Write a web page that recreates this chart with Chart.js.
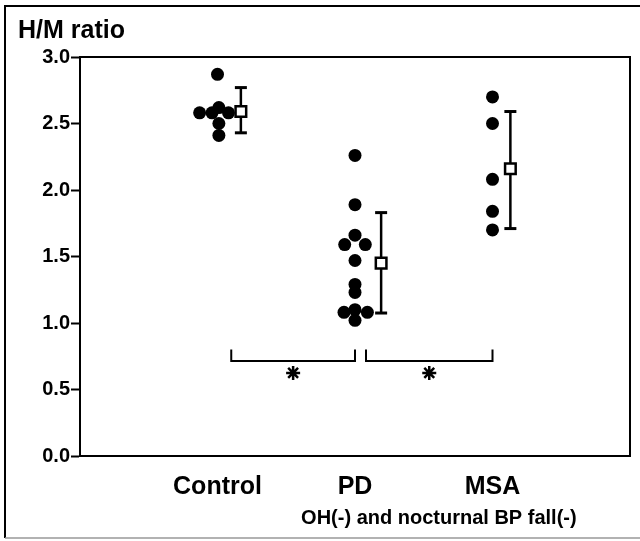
<!doctype html>
<html>
<head>
<meta charset="utf-8">
<title>H/M ratio</title>
<script src="https://cdn.jsdelivr.net/npm/chart.js@4.4.1/dist/chart.umd.min.js"></script>
<style>
  body { margin: 0; background: #fff; }
  #holder { width: 640px; height: 541px; position: relative; }
</style>
</head>
<body>
<div id="holder"><canvas id="chart"></canvas></div>
<script>
// groups along the x axis (positions 1, 2, 3)
var groups = ['Control', 'PD', 'MSA'];

// individual H/M ratios, with the small sideways spread used in the figure
var controlValues = [2.87, 2.58, 2.58, 2.62, 2.58, 2.50, 2.41];
var controlSpread = [0, -0.13, -0.04, 0.01, 0.08, 0.01, 0.01];
var pdValues = [2.26, 1.89, 1.66, 1.59, 1.59, 1.47, 1.29, 1.23, 1.08, 1.10, 1.08, 1.02];
var pdSpread = [0, 0, 0, -0.075, 0.075, 0, 0, 0, -0.08, 0, 0.09, 0];
var msaValues = [2.70, 2.50, 2.08, 1.84, 1.70];
var msaSpread = [0, 0, 0, 0, 0];

// mean +/- SD for each group, drawn just right of the dots
var meanX = [1.17, 2.19, 3.13];
var means = [2.59, 1.45, 2.16];
var sdLow = [2.43, 1.075, 1.71];
var sdHigh = [2.77, 1.83, 2.59];

// significance brackets (Control vs PD, PD vs MSA)
var bracketFrom = [1.1, 2.08];
var bracketTo = [2.0, 3.0];
var bracketTop = 0.80;
var bracketBottom = 0.715;
var starX = [1.55, 2.54];
var starY = 0.625;

var yTicks = [0, 0.5, 1.0, 1.5, 2.0, 2.5, 3.0];
var subtitle = 'OH(-) and nocturnal BP fall(-)';

Chart.defaults.font.family = '"Liberation Sans", Arial, sans-serif';
Chart.defaults.color = '#000';

function dots(values, spread, group) {
  return values.map(function (v, i) { return { x: group + spread[i], y: v }; });
}

var dotData = []
  .concat(dots(controlValues, controlSpread, 1))
  .concat(dots(pdValues, pdSpread, 2))
  .concat(dots(msaValues, msaSpread, 3));

var datasets = [];

// mean squares on top
datasets.push({
  type: 'scatter',
  data: means.map(function (m, i) { return { x: meanX[i], y: m }; }),
  pointStyle: 'rect',
  pointRadius: 7.5,
  backgroundColor: '#fff',
  borderColor: '#000',
  borderWidth: 2.5,
  order: 0
});

// SD bars with caps
means.forEach(function (m, i) {
  datasets.push({
    type: 'line',
    data: [{ x: meanX[i], y: sdLow[i] }, { x: meanX[i], y: sdHigh[i] }],
    borderColor: '#000',
    borderWidth: 2.5,
    pointStyle: 'line',
    pointRadius: 6,
    pointBorderWidth: 3,
    pointBorderColor: '#000',
    fill: false,
    order: 1
  });
});

// filled dots
datasets.push({
  type: 'scatter',
  data: dotData,
  pointStyle: 'circle',
  pointRadius: 6.5,
  backgroundColor: '#000',
  borderColor: '#000',
  borderWidth: 0,
  order: 2
});

// brackets
bracketFrom.forEach(function (x0, i) {
  datasets.push({
    type: 'line',
    data: [
      { x: x0, y: bracketTop }, { x: x0, y: bracketBottom },
      { x: bracketTo[i], y: bracketBottom }, { x: bracketTo[i], y: bracketTop }
    ],
    borderColor: '#000',
    borderWidth: 2,
    pointRadius: 0,
    fill: false,
    order: 3
  });
});

// asterisks
datasets.push({
  type: 'scatter',
  data: starX.map(function (x) { return { x: x, y: starY }; }),
  pointStyle: 'star',
  pointRadius: 7,
  borderColor: '#000',
  borderWidth: 2.5,
  order: 3
});

var framePlugin = {
  id: 'frame',
  afterDraw: function (chart) {
    var ctx = chart.ctx;
    var a = chart.chartArea;
    var xs = chart.scales.x;
    ctx.save();
    // plot box
    ctx.strokeStyle = '#000';
    ctx.lineWidth = 2;
    ctx.strokeRect(a.left, a.top, a.right - a.left, a.bottom - a.top);
    // figure frame
    ctx.lineWidth = 2;
    ctx.beginPath();
    ctx.moveTo(640, 6);
    ctx.lineTo(5, 6);
    ctx.lineTo(5, 538);
    ctx.stroke();
    ctx.strokeStyle = '#999';
    ctx.lineWidth = 1.5;
    ctx.beginPath();
    ctx.moveTo(5, 538);
    ctx.lineTo(640, 538);
    ctx.stroke();
    // subtitle under the group names
    ctx.fillStyle = '#000';
    ctx.font = 'bold 20px "Liberation Sans", Arial, sans-serif';
    ctx.textAlign = 'center';
    ctx.textBaseline = 'middle';
    ctx.fillText(subtitle, xs.getPixelForValue(2.61), 518);
    ctx.restore();
  }
};

new Chart(document.getElementById('chart').getContext('2d'), {
  type: 'scatter',
  data: { datasets: datasets },
  plugins: [framePlugin],
  options: {
    responsive: true,
    maintainAspectRatio: false,
    animation: false,
    layout: { padding: { left: 18, right: 10, top: 0, bottom: 0 } },
    plugins: {
      legend: { display: false },
      tooltip: { enabled: false },
      title: {
        display: true,
        text: 'H/M ratio',
        align: 'start',
        color: '#000',
        font: { size: 25, weight: 'bold' },
        padding: { top: 16, bottom: 11 }
      }
    },
    scales: {
      x: {
        type: 'linear',
        min: 0,
        max: 4,
        afterFit: function (s) { s.height = 85; },
        afterBuildTicks: function (s) {
          s.ticks = [1, 2, 3].map(function (v) { return { value: v }; });
        },
        ticks: {
          callback: function (v) { return groups[v - 1] || ''; },
          font: { size: 25, weight: 'bold' },
          color: '#000',
          padding: 16,
          maxRotation: 0,
          autoSkip: false
        },
        grid: { display: false, drawTicks: false },
        border: { display: true, color: '#000', width: 2 }
      },
      y: {
        min: 0,
        max: 3,
        afterFit: function (s) { s.width = 62; },
        afterBuildTicks: function (s) {
          s.ticks = yTicks.map(function (v) { return { value: v }; });
        },
        ticks: {
          callback: function (v) { return v.toFixed(1); },
          font: { size: 20, weight: 'bold' },
          color: '#000',
          padding: 1
        },
        grid: {
          drawOnChartArea: false,
          drawTicks: true,
          tickLength: 9,
          tickWidth: 2,
          tickColor: '#000'
        },
        border: { display: true, color: '#000', width: 2 }
      }
    }
  }
});
</script>
</body>
</html>
